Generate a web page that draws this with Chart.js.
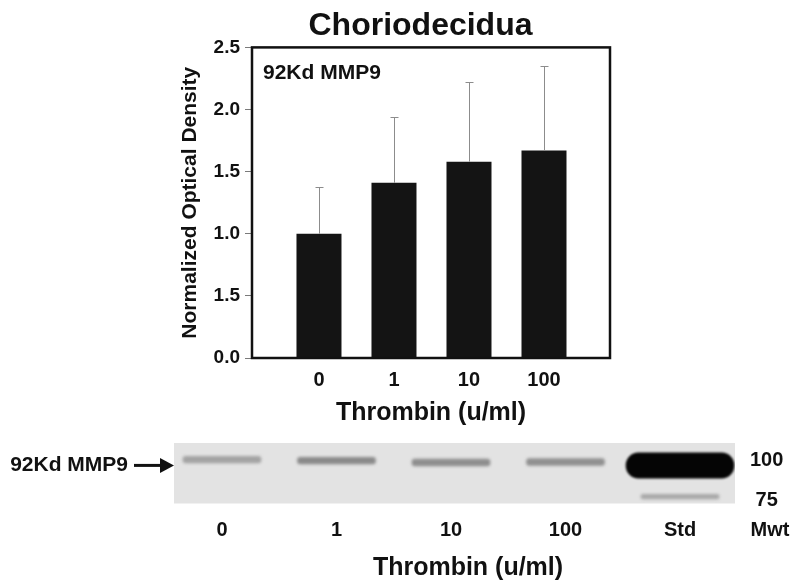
<!DOCTYPE html>
<html>
<head>
<meta charset="utf-8">
<script src="https://cdn.jsdelivr.net/npm/chart.js@4/dist/chart.umd.min.js"></script>
<style>
  html, body { margin: 0; padding: 0; background: #fff; overflow: hidden; }
  #wrap { position: relative; width: 800px; height: 586px; overflow: hidden; }
  #top { position: absolute; left: 0; top: 0; width: 800px; height: 430px; }
  /* wider than the page so the centred title lands under the lanes */
  #bottom { position: absolute; left: 0; top: 430px; width: 928px; height: 156px; }
</style>
</head>
<body>
<div id="wrap">
  <div id="top"><canvas id="bar-chart"></canvas></div>
  <div id="bottom"><canvas id="blot-chart"></canvas></div>
</div>
<script>
// bar chart data
const doses = ['0', '1', '10', '100'];
const density = [1.00, 1.41, 1.58, 1.67];
const errorTop = [1.38, 1.94, 2.22, 2.35];
const yTickLabels = ['0.0', '1.5', '1.0', '1.5', '2.0', '2.5'];

// blot data (band positions on the Mwt scale)
const lanes = ['0', '1', '10', '100', 'Std'];
const sampleBands = [[98.5, 102.7], [97.9, 102.1], [96.7, 100.9], [97.0, 101.2]];
const sampleShade = ['#a3a3a3', '#8a8a8a', '#8e8e8e', '#909090'];
const stdBand100 = [89.0, 104.9];
const stdBand75 = [76.0, 79.0];
const mwtValues = [100, 75];
const mwtLabels = ['100', '75'];
const markerValue = 97;
const markerLabel = '92Kd MMP9';

const FONT = '"Liberation Sans", Arial, sans-serif';
Chart.defaults.font.family = FONT;
Chart.defaults.font.weight = 'bold';
Chart.defaults.color = '#111';

const errorBars = {
  id: 'errorBars',
  afterDatasetsDraw(chart) {
    const {ctx, scales: {x, y}} = chart;
    ctx.save();
    ctx.strokeStyle = '#8c8c8c';
    ctx.lineWidth = 1;
    density.forEach((v, i) => {
      const px = Math.round(x.getPixelForValue(i + 1)) + 0.5;
      const y0 = y.getPixelForValue(v);
      const y1 = Math.round(y.getPixelForValue(errorTop[i])) + 0.5;
      ctx.beginPath();
      ctx.moveTo(px, y0);
      ctx.lineTo(px, y1);
      ctx.moveTo(px - 4, y1);
      ctx.lineTo(px + 4, y1);
      ctx.stroke();
    });
    ctx.restore();
  }
};

const frame = {
  id: 'frame',
  afterDraw(chart) {
    const {ctx, chartArea: a} = chart;
    ctx.save();
    ctx.strokeStyle = '#111';
    ctx.lineWidth = 2.5;
    ctx.strokeRect(a.left, a.top, a.right - a.left, a.bottom - a.top);
    ctx.font = 'bold 21px ' + FONT;
    ctx.fillStyle = '#111';
    ctx.fillText(markerLabel, a.left + 11, a.top + 31.5);
    ctx.restore();
  }
};

new Chart(document.getElementById('bar-chart'), {
  type: 'bar',
  data: {
    datasets: [{
      label: markerLabel,
      data: density.map((v, i) => ({x: i + 1, y: v})),
      backgroundColor: '#141414',
      barPercentage: 0.75,
      categoryPercentage: 0.8
    }]
  },
  options: {
    responsive: true,
    maintainAspectRatio: false,
    animation: false,
    layout: {padding: {left: 41, right: 0, top: 0, bottom: 0}},
    plugins: {
      legend: {display: false},
      tooltip: {enabled: false},
      title: {
        display: true,
        text: 'Choriodecidua',
        color: '#111',
        font: {size: 32, weight: 'bold'},
        padding: {top: 7, bottom: 2}
      }
    },
    scales: {
      x: {
        type: 'linear',
        offset: false,
        min: 0.107,
        max: 4.88,
        grid: {display: false, tickLength: 0},
        border: {display: false},
        afterBuildTicks: s => { s.ticks = doses.map((d, i) => ({value: i + 1})); },
        ticks: {padding: 10, autoSkip: false, font: {size: 20}, callback: v => doses[v - 1]},
        title: {display: true, text: 'Thrombin (u/ml)', font: {size: 25}, padding: {top: 0, bottom: 2}},
        afterFit: s => { s.height = 72; }
      },
      y: {
        min: 0,
        max: 2.5,
        grid: {drawOnChartArea: false, tickLength: 7, color: '#7a7a7a'},
        border: {display: false},
        ticks: {stepSize: 0.5, padding: 5, font: {size: 19}, callback: (v, i) => yTickLabels[i]},
        title: {display: true, text: 'Normalized Optical Density', font: {size: 21}, padding: {top: 137, bottom: 0}},
        afterFit: s => { s.width = 211; }
      },
      y2: {
        position: 'right',
        min: 0,
        max: 1,
        grid: {display: false},
        border: {display: false},
        ticks: {display: false},
        afterFit: s => { s.width = 190; }
      }
    }
  },
  plugins: [errorBars, frame]
});

const blotBackground = {
  id: 'blotBackground',
  beforeDatasetsDraw(chart) {
    const {ctx, chartArea: a} = chart;
    ctx.save();
    ctx.fillStyle = '#e3e3e3';
    ctx.fillRect(a.left, a.top, a.right - a.left, a.bottom - a.top);
    ctx.restore();
  },
  beforeDatasetDraw(chart, args) {
    chart.ctx.filter = args.index === 1 ? 'blur(1px)' : 'blur(1.6px)';
  },
  afterDatasetDraw(chart) {
    chart.ctx.filter = 'none';
  }
};

const blotMarks = {
  id: 'blotMarks',
  afterDraw(chart) {
    const {ctx, chartArea: a, scales: {x, y, y2}} = chart;
    const py = y.getPixelForValue(markerValue);
    ctx.save();
    ctx.fillStyle = '#111';
    ctx.strokeStyle = '#111';
    ctx.lineWidth = 3;
    ctx.beginPath();
    ctx.moveTo(a.left - 40, py);
    ctx.lineTo(a.left - 12, py);
    ctx.stroke();
    ctx.beginPath();
    ctx.moveTo(a.left - 14, py - 7.5);
    ctx.lineTo(a.left, py);
    ctx.lineTo(a.left - 14, py + 7.5);
    ctx.closePath();
    ctx.fill();
    ctx.font = 'bold 20px ' + FONT;
    ctx.textAlign = 'center';
    ctx.textBaseline = 'middle';
    ctx.fillText('Mwt', y2.left + 35, x.top + x.options.ticks.padding + 12);
    ctx.restore();
  }
};

new Chart(document.getElementById('blot-chart'), {
  type: 'bar',
  data: {
    datasets: [
      {
        label: 'MMP9',
        data: sampleBands.map((b, i) => ({x: i + 1, y: b})),
        backgroundColor: sampleShade,
        barThickness: 78,
        borderSkipped: false,
        borderRadius: 3
      },
      {
        label: 'Std 100',
        data: [{x: 5, y: stdBand100}],
        backgroundColor: '#050505',
        barThickness: 108,
        borderSkipped: false,
        borderRadius: 13
      },
      {
        label: 'Std 75',
        data: [{x: 5, y: stdBand75}],
        backgroundColor: '#a8a8a8',
        barThickness: 78,
        borderSkipped: false,
        borderRadius: 2
      }
    ]
  },
  options: {
    responsive: true,
    maintainAspectRatio: false,
    animation: false,
    grouped: false,
    layout: {padding: {left: 8, right: 0, top: 13, bottom: 0}},
    plugins: {
      legend: {display: false},
      tooltip: {enabled: false},
      title: {
        display: true,
        position: 'bottom',
        text: 'Thrombin (u/ml)',
        color: '#111',
        font: {size: 25, weight: 'bold'},
        padding: {top: 0, bottom: 3}
      }
    },
    scales: {
      x: {
        type: 'linear',
        offset: false,
        min: 0.581,
        max: 5.48,
        grid: {display: false, tickLength: 0},
        border: {display: false},
        afterBuildTicks: s => { s.ticks = lanes.map((l, i) => ({value: i + 1})); },
        ticks: {padding: 14.5, autoSkip: false, font: {size: 20}, callback: v => lanes[v - 1]},
        afterFit: s => { s.height = 49.5; }
      },
      y: {
        min: 73.2,
        max: 111,
        grid: {display: false, tickLength: 46},
        border: {display: false},
        afterBuildTicks: s => { s.ticks = [{value: markerValue}]; },
        ticks: {padding: 0, autoSkip: false, font: {size: 21}, callback: () => markerLabel},
        afterFit: s => { s.width = 166; }
      },
      y2: {
        position: 'right',
        min: 73.2,
        max: 111,
        grid: {display: false, tickLength: 15},
        border: {display: false},
        afterBuildTicks: s => { s.ticks = mwtValues.map(v => ({value: v})); },
        ticks: {padding: 0, autoSkip: false, crossAlign: 'center', font: {size: 20}, callback: v => mwtLabels[mwtValues.indexOf(v)]},
        afterFit: s => { s.width = 193; }
      }
    }
  },
  plugins: [blotBackground, blotMarks]
});
</script>
</body>
</html>
